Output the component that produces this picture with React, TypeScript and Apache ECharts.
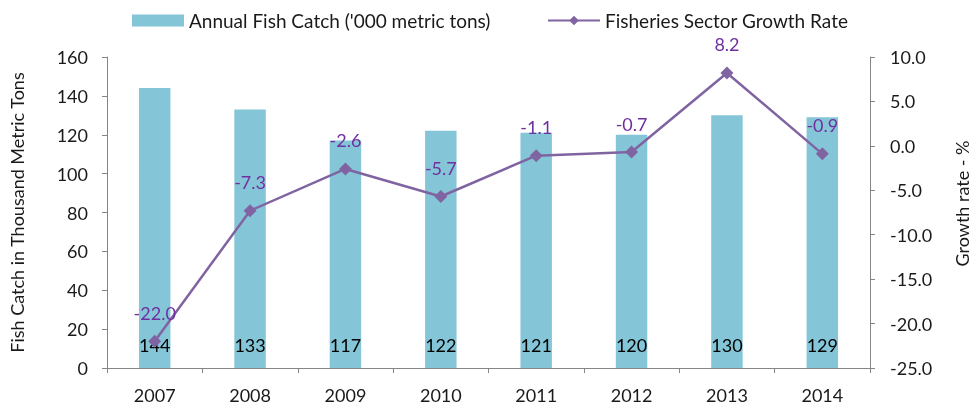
import React, { useEffect, useRef } from "react";
import * as echarts from "echarts";

const years = ["2007", "2008", "2009", "2010", "2011", "2012", "2013", "2014"];
const fishCatch = [144, 133, 117, 122, 121, 120, 130, 129];
const growthRate = [-22.0, -7.3, -2.6, -5.7, -1.1, -0.7, 8.2, -0.9];

const FONT = "Lato, 'Open Sans', sans-serif";
const BAR_NAME = "Annual Fish Catch ('000 metric tons)";
const LINE_NAME = "Fisheries Sector Growth Rate";

export default function App() {
  const ref = useRef<HTMLDivElement>(null);
  useEffect(() => {
    if (!ref.current) return;
    const chart = echarts.init(ref.current, null, { renderer: "svg" });
    const legendText = { fontSize: 19, color: "#1a1a1a", fontFamily: FONT };
    chart.setOption({
      animation: false,
      textStyle: { fontFamily: FONT },
      legend: [
        {
          top: 11,
          left: 132,
          padding: 0,
          itemWidth: 52,
          itemHeight: 12,
          textStyle: legendText,
          data: [{ name: BAR_NAME, icon: "rect" }],
        },
        {
          top: 11,
          left: 547,
          padding: 0,
          itemWidth: 52,
          itemHeight: 12,
          textStyle: legendText,
          data: [{ name: LINE_NAME }],
        },
      ],
      grid: { left: 100, right: 92, top: 57, bottom: 40 },
      xAxis: {
        type: "category",
        data: years,
        boundaryGap: true,
        axisLine: { lineStyle: { color: "#868686" } },
        axisTick: { show: true, length: 5, lineStyle: { color: "#868686" } },
        axisLabel: { color: "#1a1a1a", fontSize: 18, margin: 18, fontFamily: FONT },
      },
      yAxis: [
        {
          type: "value",
          min: 0,
          max: 160,
          interval: 20,
          name: "Fish Catch in Thousand Metric Tons",
          nameLocation: "middle",
          nameGap: 81,
          nameTextStyle: { fontSize: 18, color: "#1a1a1a", fontFamily: FONT },
          axisLine: { show: true, lineStyle: { color: "#868686" } },
          axisTick: { show: true, length: 5, lineStyle: { color: "#868686" } },
          axisLabel: { color: "#1a1a1a", fontSize: 18, margin: 19, fontFamily: FONT },
          splitLine: { show: false },
        },
        {
          type: "value",
          min: -25,
          max: 10,
          interval: 5,
          name: "Growth rate - %",
          nameLocation: "middle",
          nameGap: 83,
          nameRotate: 90,
          nameTextStyle: {
            fontSize: 18,
            color: "#1a1a1a",
            fontFamily: FONT,
            padding: [0, 0, 0, 18],
          },
          axisLine: { show: true, lineStyle: { color: "#868686" } },
          axisTick: { show: true, length: 5, lineStyle: { color: "#868686" } },
          axisLabel: {
            color: "#1a1a1a",
            fontSize: 18,
            margin: 20,
            fontFamily: FONT,
            formatter: (v: number) => v.toFixed(1),
          },
          splitLine: { show: false },
        },
      ],
      series: [
        {
          name: BAR_NAME,
          type: "bar",
          data: fishCatch,
          barWidth: "33%",
          itemStyle: { color: "#84c6d7" },
          label: {
            show: true,
            position: "insideBottom",
            distance: 14,
            color: "#000",
            fontSize: 18,
            fontFamily: FONT,
          },
        },
        {
          name: LINE_NAME,
          type: "line",
          yAxisIndex: 1,
          data: growthRate,
          symbol: "diamond",
          symbolSize: 13,
          lineStyle: { color: "#8064a2", width: 2.5 },
          itemStyle: { color: "#8064a2" },
          label: {
            show: true,
            position: "top",
            distance: 13,
            color: "#7030a0",
            fontSize: 18,
            fontFamily: FONT,
            formatter: (p: any) => Number(p.value).toFixed(1),
          },
        },
      ],
    });
    return () => chart.dispose();
  }, []);
  return (
    <div
      ref={ref}
      style={{ position: "fixed", left: 0, top: 0, width: 979, height: 408 }}
    />
  );
}
